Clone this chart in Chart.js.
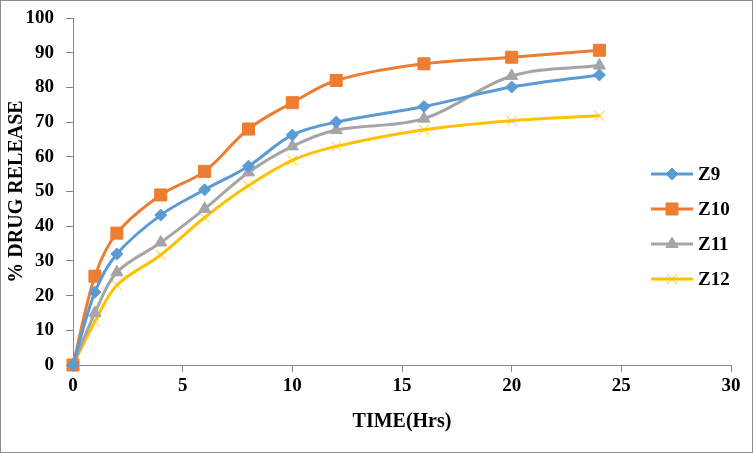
<!DOCTYPE html>
<html>
<head>
<meta charset="utf-8">
<script src="https://cdn.jsdelivr.net/npm/chart.js@4.4.1/dist/chart.umd.min.js"></script>
<style>
html,body{margin:0;padding:0;background:#fff;}
#wrap{width:753px;height:453px;position:relative;}
</style>
</head>
<body>
<div id="wrap"><canvas id="c" width="753" height="453"></canvas></div>
<script>
const timeHrs = [0, 1, 2, 4, 6, 8, 10, 12, 16, 20, 24];
const z9  = [0, 21.0, 32.0, 43.2, 50.5, 57.3, 66.3, 70.0, 74.5, 80.1, 83.6];
const z10 = [0, 25.6, 38.0, 49.0, 55.8, 68.0, 75.6, 82.0, 86.8, 88.7, 90.7];
const z11 = [0, 15.0, 26.7, 35.3, 45.0, 55.5, 63.0, 67.7, 71.0, 83.3, 86.3];
const z12 = [0, 12.5, 23.0, 31.7, 42.5, 51.7, 59.0, 63.0, 67.8, 70.4, 71.8];
const seriesNames = ['Z9', 'Z10', 'Z11', 'Z12'];
const xTicks = [0, 5, 10, 15, 20, 25, 30];
const yTicks = [0, 10, 20, 30, 40, 50, 60, 70, 80, 90, 100];

const colors = ['#5B9BD5', '#ED7D31', '#A5A5A5', '#FFC000'];
const styles = ['rectRot', 'rect', 'triangle', 'crossRot'];
const radii = [6, 8.5, 7, 7];
const values = [z9, z10, z11, z12];

const datasets = values.map((v, i) => ({
  label: seriesNames[i],
  data: timeHrs.map((t, j) => ({x: t, y: v[j]})),
  borderColor: colors[i],
  backgroundColor: colors[i],
  borderWidth: 3,
  pointStyle: styles[i],
  pointRadius: radii[i],
  pointBorderWidth: 1,
  pointBackgroundColor: colors[i],
  pointBorderColor: colors[i],
  tension: 0.35,
  clip: false
}));

const fontFam = '"Liberation Serif", "Times New Roman", serif';

const legendPlugin = {
  id: 'customLegend',
  afterDraw(chart) {
    const ctx = chart.ctx;
    ctx.save();
    ctx.strokeStyle = '#8c8c8c';
    ctx.lineWidth = 1;
    ctx.strokeRect(0.5, 0.5, 752, 452);
    const ys = [174, 209, 244, 279];
    chart.data.datasets.forEach((ds, i) => {
      const y = ys[i];
      ctx.strokeStyle = ds.borderColor;
      ctx.lineWidth = 3;
      ctx.beginPath();
      ctx.moveTo(651, y);
      ctx.lineTo(693, y);
      ctx.stroke();
      ctx.fillStyle = ds.backgroundColor;
      ctx.strokeStyle = ds.borderColor;
      ctx.lineWidth = 1;
      Chart.helpers.drawPoint(ctx, {pointStyle: ds.pointStyle, radius: ds.pointRadius, rotation: 0, borderWidth: 1}, 672, y);
      ctx.fillStyle = '#000';
      ctx.font = 'bold 19px ' + fontFam;
      ctx.textBaseline = 'middle';
      ctx.textAlign = 'left';
      ctx.fillText(ds.label, 698, y + 1);
    });
    ctx.restore();
  }
};

new Chart(document.getElementById('c'), {
  type: 'line',
  data: { datasets },
  options: {
    responsive: false,
    animation: false,
    layout: { padding: { left: 0, right: 22, top: 18, bottom: 18 } },
    plugins: { legend: { display: false }, tooltip: { enabled: false } },
    scales: {
      x: {
        type: 'linear',
        min: 0, max: 30,
        afterFit(s) { s.height = 435 - 365; s.paddingLeft = 0; s.paddingRight = 0; },
        afterBuildTicks(s) { s.ticks = xTicks.map(v => ({value: v})); },
        grid: { drawOnChartArea: false, drawTicks: true, tickLength: 7, color: '#868686', lineWidth: 1 },
        border: { display: true, color: '#868686', width: 1 },
        ticks: { color: '#000', font: { family: fontFam, size: 19, weight: 'bold' }, padding: 3, maxRotation: 0 },
        title: { display: true, text: 'TIME(Hrs)', color: '#000', font: { family: fontFam, size: 20, weight: 'bold' }, padding: { top: 0, bottom: 1 } }
      },
      y: {
        type: 'linear',
        min: 0, max: 100,
        afterFit(s) { s.width = 73; s.paddingTop = 0; s.paddingBottom = 0; },
        afterBuildTicks(s) { s.ticks = yTicks.map(v => ({value: v})); },
        grid: { drawOnChartArea: false, drawTicks: true, tickLength: 7, color: '#868686', lineWidth: 1 },
        border: { display: true, color: '#868686', width: 1 },
        ticks: { color: '#000', font: { family: fontFam, size: 19, weight: 'bold' }, padding: 12 },
        title: { display: true, text: '% DRUG RELEASE', color: '#000', font: { family: fontFam, size: 20, weight: 'bold' }, padding: { top: 5, bottom: 0 } }
      }
    }
  },
  plugins: [legendPlugin]
});
</script>
</body>
</html>
